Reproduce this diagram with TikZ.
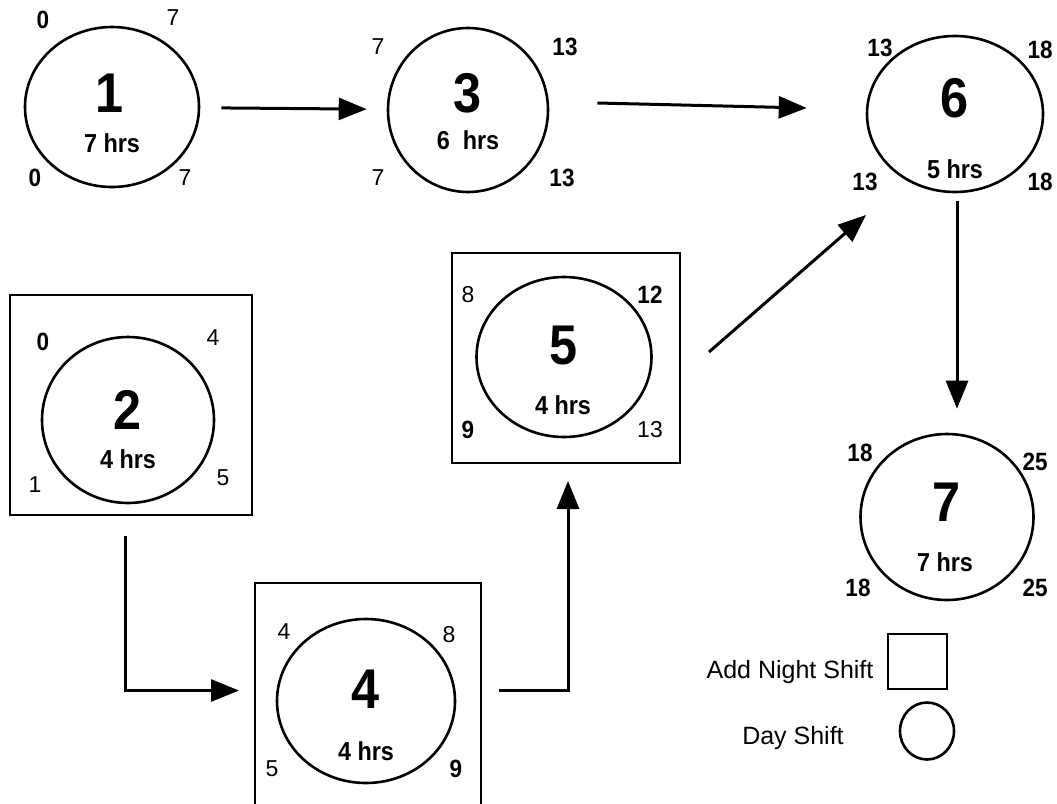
\documentclass[tikz,border=0pt]{standalone}
\usepackage{fontspec}
\setmainfont{Liberation Sans}
\newfontfamily\condfont[FakeStretch=0.9]{Liberation Sans}
\usetikzlibrary{arrows.meta,calc,shapes.geometric}
\begin{document}
\begin{tikzpicture}[x=1pt,y=-1pt,
  ell/.style={draw, ellipse, line width=2.6pt, inner sep=0pt},
  nbox/.style={draw, rectangle, line width=2pt, inner sep=0pt},
  cnb/.style={inner sep=0pt, font=\condfont\fontsize{25}{25}\selectfont\bfseries},
  cnr/.style={inner sep=0pt, font=\fontsize{23}{23}\selectfont},
  bignum/.style={inner sep=0pt, font=\condfont\fontsize{56}{56}\selectfont\bfseries},
  hrs/.style={inner sep=0pt, font=\condfont\fontsize{26}{26}\selectfont\bfseries},
  legtext/.style={inner sep=0pt, font=\fontsize{25}{25}\selectfont},
  arr/.style={line width=3pt, -{Triangle[length=28pt,width=22pt]}}
]
\useasboundingbox (0,0) rectangle (1057,803);

% ---- node 1
\node[ell, minimum width=174, minimum height=160] (n1) at (112,107) {};
\node[bignum] (n1num) at (110,93) {1};
\node[hrs] (n1hrs) at (112,143) {7 hrs};
\node[cnb] (n1a) at (43,20) {0};
\node[cnr] (n1b) at (173,18) {7};
\node[cnb] (n1c) at (35,178) {0};
\node[cnr] (n1d) at (185,178) {7};

% ---- node 3
\node[ell, minimum width=160, minimum height=164] (n3) at (468,110) {};
\node[bignum] (n3num) at (468,93) {3};
\node[hrs] (n3hrs) at (468,140) {6\ \ hrs};
\node[cnr] (n3a) at (378,47) {7};
\node[cnb] (n3b) at (565,47) {13};
\node[cnr] (n3c) at (378,178) {7};
\node[cnb] (n3d) at (562,178) {13};

% ---- node 6
\node[ell, minimum width=176, minimum height=156] (n6) at (955,114) {};
\node[bignum] (n6num) at (955,98) {6};
\node[hrs] (n6hrs) at (955,169) {5 hrs};
\node[cnb] (n6a) at (880,48) {13};
\node[cnb] (n6b) at (1040,50) {18};
\node[cnb] (n6c) at (865,182) {13};
\node[cnb] (n6d) at (1040,182) {18};

% ---- node 7
\node[ell, minimum width=173, minimum height=166] (n7) at (947,517) {};
\node[bignum] (n7num) at (947,502) {7};
\node[hrs] (n7hrs) at (945,562) {7 hrs};
\node[cnb] (n7a) at (860,453) {18};
\node[cnb] (n7b) at (1035,462) {25};
\node[cnb] (n7c) at (858,588) {18};
\node[cnb] (n7d) at (1035,588) {25};

% ---- node 2 (night shift box)
\node[nbox, minimum width=242, minimum height=220] (b2) at (131,405) {};
\node[ell, minimum width=172, minimum height=166] (n2) at (128,420) {};
\node[bignum] (n2num) at (128,410) {2};
\node[hrs] (n2hrs) at (128,459) {4 hrs};
\node[cnb] (n2a) at (43,342) {0};
\node[cnr] (n2b) at (213,338) {4};
\node[cnr] (n2c) at (35,485) {1};
\node[cnr] (n2d) at (223,478) {5};

% ---- node 4 (night shift box)
\node[nbox, minimum width=226, minimum height=247] (b4) at (368,706.5) {};
\node[ell, minimum width=178, minimum height=164] (n4) at (366,701) {};
\node[bignum] (n4num) at (366,689) {4};
\node[hrs] (n4hrs) at (366,751) {4 hrs};
\node[cnr] (n4a) at (284,632) {4};
\node[cnr] (n4b) at (449,635) {8};
\node[cnr] (n4c) at (272,769) {5};
\node[cnb] (n4d) at (456,769) {9};

% ---- node 5 (night shift box)
\node[nbox, minimum width=228, minimum height=210] (b5) at (566,358) {};
\node[ell, minimum width=175, minimum height=160] (n5) at (564,357) {};
\node[bignum] (n5num) at (564,346) {5};
\node[hrs] (n5hrs) at (563,405) {4 hrs};
\node[cnr] (n5a) at (468,295) {8};
\node[cnb] (n5b) at (650,295) {12};
\node[cnb] (n5c) at (468,430) {9};
\node[cnr] (n5d) at (650,430) {13};

% ---- legend
\node[legtext] (lg1) at (790,672) {Add Night Shift};
\node[nbox, minimum width=59, minimum height=55] (lgbox) at (917.5,661.5) {};
\node[legtext] (lg2) at (793,738) {Day Shift};
\node[ell, minimum width=54, minimum height=57] (lgell) at (927,731) {};

% ---- connectors
\draw[arr, shorten <=21pt, shorten >=20pt] (n1) -- (n3);
\draw[arr] ($(n3.east)+(48,-7)$) -- ($(n6.west)+(-59,-6)$);
\draw[arr] ($(b5.east)+(28,-6)$) -- ($(n6.center)+(-89,101)$);
\draw[arr] ($(n6.south)+(2,8)$) -- ($(n7.north)+(10,-24)$);
\draw[arr] ($(b2.south)+(-6,20)$) |- ($(b4.west)+(-15,-16)$);
\draw[arr] ($(b4.east)+(17,-16)$) -| ($(b5.south)+(2,17)$);
\end{tikzpicture}
\end{document}
